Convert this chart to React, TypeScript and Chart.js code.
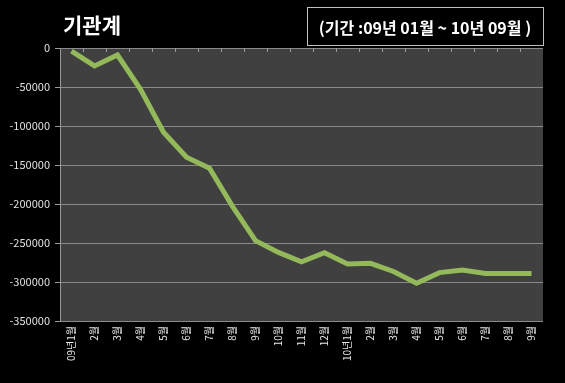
import React, { useEffect, useRef } from "react";
import { Chart, registerables } from "chart.js";

Chart.register(...registerables);

const categories: string[] = [
  "09년1월", "2월", "3월", "4월", "5월", "6월", "7월", "8월", "9월", "10월", "11월", "12월",
  "10년1월", "2월", "3월", "4월", "5월", "6월", "7월", "8월", "9월",
];

const values: number[] = [
  -4000, -23000, -9000, -53000, -108000, -140000, -154000, -203000, -247000, -262000,
  -274000, -262500, -277000, -276000, -286500, -301500, -288000, -284500, -289000, -289000, -289000,
];

const yTicks: number[] = [0, -50000, -100000, -150000, -200000, -250000, -300000, -350000];

const titleText = "기관계";
const periodText = "(기간 :09년 01월 ~ 10년 09월 )";

const FONT = "'Noto Sans CJK KR', 'Noto Sans', sans-serif";

export default function App() {
  const ref = useRef<HTMLCanvasElement | null>(null);

  useEffect(() => {
    document.body.style.margin = "0";
    document.body.style.background = "#000";
    const canvas = ref.current;
    if (!canvas) return;

    const decor = {
      id: "decor",
      beforeDraw(chart: any) {
        const { ctx, chartArea } = chart;
        ctx.save();
        ctx.fillStyle = "#000";
        ctx.fillRect(0, 0, chart.width, chart.height);
        ctx.fillStyle = "#404040";
        ctx.fillRect(chartArea.left, chartArea.top, chartArea.right - chartArea.left, chartArea.bottom - chartArea.top);
        ctx.restore();
      },
      afterDatasetsDraw(chart: any) {
        const { ctx, chartArea } = chart;
        const x = chart.scales.x;
        const n = categories.length;
        ctx.save();
        ctx.strokeStyle = "#9a9a9a";
        ctx.lineWidth = 1;
        ctx.beginPath();
        for (let i = 1; i < n; i++) {
          const px = Math.round((x.getPixelForValue(i - 1) + x.getPixelForValue(i)) / 2) + 0.5;
          ctx.moveTo(px, chartArea.top);
          ctx.lineTo(px, chartArea.top + 4);
        }
        ctx.stroke();
        ctx.restore();
      },
      afterDraw(chart: any) {
        const { ctx } = chart;
        ctx.save();
        ctx.fillStyle = "#ffffff";
        ctx.textBaseline = "middle";
        ctx.textAlign = "left";
        ctx.font = `bold 21px ${FONT}`;
        ctx.fillText(titleText, 63, 25);
        ctx.strokeStyle = "#bfbfbf";
        ctx.lineWidth = 1;
        ctx.strokeRect(307.5, 7.5, 236, 38);
        ctx.font = `bold 16px ${FONT}`;
        ctx.textAlign = "center";
        ctx.fillText(periodText, 425, 28);
        ctx.restore();
      },
    };

    const chart = new Chart(canvas, {
      type: "line",
      data: {
        labels: categories,
        datasets: [
          {
            data: values,
            borderColor: "#93b95a",
            borderWidth: 5,
            pointRadius: 0,
            tension: 0,
            fill: false,
          },
        ],
      },
      options: {
        animation: false,
        responsive: false,
        devicePixelRatio: 1,
        layout: { padding: { top: 48, right: 22, left: 0, bottom: 0 } },
        plugins: { legend: { display: false }, title: { display: false }, tooltip: { enabled: false } },
        scales: {
          x: {
            type: "category",
            offset: true,
            grid: { display: false, drawTicks: false },
            border: { display: false },
            ticks: {
              color: "#e8e8e8",
              font: { family: FONT, size: 10 },
              minRotation: 90,
              maxRotation: 90,
              autoSkip: false,
              padding: 5,
            },
            afterFit(scale: any) {
              scale.height = 62;
            },
          },
          y: {
            type: "linear",
            min: -350000,
            max: 0,
            afterBuildTicks(scale: any) {
              scale.ticks = yTicks.map((v) => ({ value: v }));
            },
            grid: {
              color: "#8a8a8a",
              lineWidth: 1,
              drawTicks: true,
              tickLength: 5,
              tickColor: "#9a9a9a",
            },
            border: { display: true, color: "#9a9a9a", width: 1 },
            ticks: {
              color: "#e0e0e0",
              font: { family: FONT, size: 11 },
              padding: 5,
              callback: (v: any) => String(v),
            },
            afterFit(scale: any) {
              scale.width = 60;
            },
          },
        },
      },
      plugins: [decor],
    });

    return () => chart.destroy();
  }, []);

  return (
    <div style={{ width: 565, height: 383, background: "#000" }}>
      <canvas ref={ref} width={565} height={383} style={{ display: "block" }} />
    </div>
  );
}
